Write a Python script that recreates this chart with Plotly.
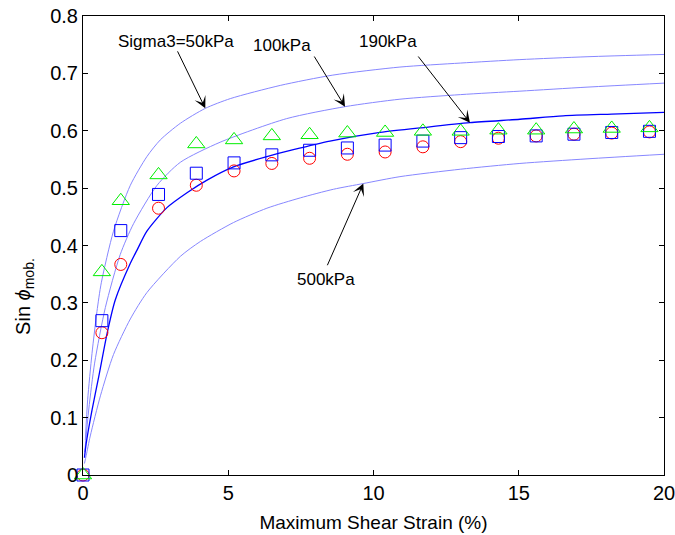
import plotly.graph_objects as go

strain_pts = [0, 0.65, 1.3, 2.6, 3.9, 5.2, 6.5, 7.8, 9.1, 10.4, 11.7, 13.0, 14.3, 15.6, 16.9, 18.2, 19.5]
tri_vals = [0, 0.354, 0.478, 0.523, 0.577, 0.584, 0.591, 0.593, 0.596, 0.597, 0.599, 0.599, 0.601, 0.601, 0.603, 0.604, 0.605]
sq_vals = [0, 0.269, 0.426, 0.489, 0.526, 0.544, 0.558, 0.566, 0.570, 0.575, 0.582, 0.588, 0.590, 0.591, 0.594, 0.597, 0.599]
circ_vals = [0, 0.248, 0.367, 0.465, 0.505, 0.530, 0.543, 0.552, 0.559, 0.563, 0.572, 0.581, 0.587, 0.591, 0.594, 0.596, 0.598]

c50_x = [0.08, 0.16, 0.31, 0.48, 0.63, 1.05, 1.63, 2.2, 2.66, 3.35, 4.21, 5.07, 6.79, 8.6, 10.91, 13.0, 15.04, 17.35, 20.0]
c50_y = [0.061, 0.131, 0.212, 0.285, 0.335, 0.425, 0.505, 0.555, 0.584, 0.613, 0.639, 0.656, 0.679, 0.697, 0.711, 0.718, 0.724, 0.729, 0.733]

c100_x = [0.06, 0.2, 0.4, 0.77, 1.28, 1.74, 2.55, 3.35, 4.72, 7.0, 9.02, 10.91, 13.0, 15.04, 17.35, 20.0]
c100_y = [0.040, 0.115, 0.195, 0.292, 0.384, 0.438, 0.505, 0.545, 0.580, 0.621, 0.642, 0.655, 0.663, 0.669, 0.676, 0.683]

c190_x = [0.05, 0.11, 0.31, 0.54, 0.83, 1.11, 1.63, 1.86, 2.2, 2.89, 3.58, 4.27, 5.18, 6.33, 7.24, 8.5, 10.23, 11.8, 13.32, 15.04, 16.53, 18.2, 20.0]
c190_y = [0.030, 0.055, 0.113, 0.171, 0.247, 0.305, 0.369, 0.392, 0.425, 0.466, 0.492, 0.514, 0.537, 0.555, 0.567, 0.582, 0.597, 0.606, 0.614, 0.620, 0.626, 0.629, 0.632]

c500_x = [0.05, 0.11, 0.25, 0.6, 1.05, 1.63, 2.2, 3.35, 4.04, 5.18, 6.33, 7.48, 8.62, 9.65, 10.91, 13.0, 15.04, 17.35, 20.0]
c500_y = [0.020, 0.034, 0.068, 0.138, 0.210, 0.272, 0.318, 0.381, 0.407, 0.440, 0.465, 0.483, 0.498, 0.508, 0.520, 0.533, 0.543, 0.551, 0.559]

labels = ["Sigma3=50kPa", "100kPa", "190kPa", "500kPa"]
label_pos = [(3.19, 0.755), (6.86, 0.749), (10.5, 0.755), (8.36, 0.34)]
arrow_tail = [(3.23, 0.741), (7.93, 0.732), (11.5, 0.732), (8.39, 0.363)]
arrow_head = [(4.21, 0.639), (9.02, 0.642), (13.32, 0.614), (9.65, 0.508)]

light = "rgb(135,135,255)"
fig = go.Figure()
for cx, cy, col, w in [(c50_x, c50_y, light, 1), (c100_x, c100_y, light, 1),
                       (c500_x, c500_y, light, 1), (c190_x, c190_y, "#0000ff", 1.3)]:
    fig.add_trace(go.Scatter(x=cx, y=cy, mode="lines",
                             line=dict(color=col, width=w, shape="spline", smoothing=0.7),
                             showlegend=False, hoverinfo="skip"))

fig.add_trace(go.Scatter(x=strain_pts, y=circ_vals, mode="markers", cliponaxis=False,
                         marker=dict(symbol="circle-open", size=12, color="#ff0000", line=dict(width=1)),
                         showlegend=False))
fig.add_trace(go.Scatter(x=strain_pts, y=sq_vals, mode="markers", cliponaxis=False,
                         marker=dict(symbol="square-open", size=12, color="#0000ff", line=dict(width=1)),
                         showlegend=False))
fig.add_trace(go.Scatter(x=strain_pts, y=tri_vals, mode="markers", cliponaxis=False,
                         marker=dict(symbol="triangle-up-open", size=15, color="#00ee00", line=dict(width=1)),
                         showlegend=False))

font = "Liberation Sans, Arial, sans-serif"
for t, (tx, ty), (ax, ay), (hx, hy) in zip(labels, label_pos, arrow_tail, arrow_head):
    fig.add_annotation(x=tx, y=ty, xref="x", yref="y", text=t, showarrow=False,
                       font=dict(family=font, size=17, color="black"))
    fig.add_annotation(x=hx, y=hy, ax=ax, ay=ay, xref="x", yref="y", axref="x", ayref="y",
                       text="", showarrow=True, arrowhead=3, arrowsize=2, arrowwidth=1,
                       arrowcolor="black", standoff=0, startstandoff=0)

fig.add_annotation(x=-0.1, y=0.39, xref="paper", yref="paper", textangle=-90,
                   text="Sin <i>ϕ</i><sub>mob.</sub>", showarrow=False, xanchor="center", yanchor="middle",
                   font=dict(family=font, size=20, color="black"))

axis_common = dict(showline=True, linecolor="black", linewidth=1, mirror="ticks", ticks="inside",
                   ticklen=5, tickcolor="black", showgrid=False, zeroline=False,
                   ticklabeloverflow="allow", automargin=False,
                   tickfont=dict(family=font, size=20, color="black"))
fig.update_xaxes(range=[0, 20], dtick=5, tick0=0,
                 title=dict(text="Maximum Shear Strain (%)", font=dict(family=font, size=19, color="black"), standoff=12),
                 **axis_common)
fig.update_yaxes(range=[0, 0.8], dtick=0.1, tick0=0, **axis_common)

fig.update_layout(width=675, height=535, margin=dict(l=83, r=11, t=16, b=60),
                  plot_bgcolor="white", paper_bgcolor="white", font=dict(family=font))
fig.write_html("out.html", config={"displayModeBar": False},
               post_script="document.body.style.margin='0px'; document.body.style.overflow='hidden';")
